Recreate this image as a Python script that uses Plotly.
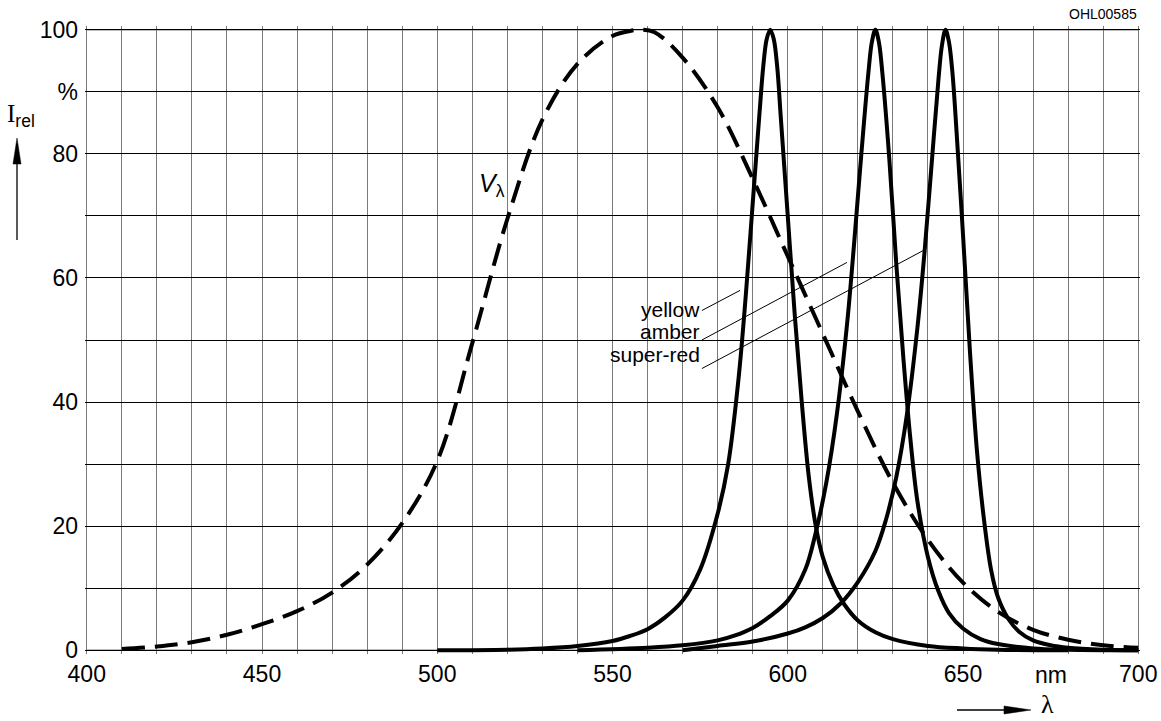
import plotly.graph_objects as go

# ---------------- data ----------------
wl_v = [410, 420, 430, 440, 450, 460, 470, 480, 490, 500, 510, 520, 530, 540, 550, 555, 558,
        562, 570, 580, 590, 600, 610, 620, 630, 640, 650, 660, 670, 680, 690, 700]
v_lambda = [0.2, 0.6, 1.3, 2.5, 4.2, 6.3, 9.3, 13.8, 20.5, 30.5, 49.5, 69.5, 85.5, 94.5, 99, 99.8, 100,
            99.6, 95.5, 87.5, 76, 63.5, 51, 38.5, 27, 17.8, 10.9, 6.2, 3.3, 1.7, 0.8, 0.4]

wl_yellow = [500, 520, 530, 540, 550, 555, 560, 565, 570, 575, 580, 583, 586, 588, 590, 592, 593,
             594, 595, 596, 597, 598, 600, 602, 604, 606, 608, 610, 613, 616, 620, 625, 630, 640,
             650, 660, 680]
i_yellow = [0, 0.1, 0.3, 0.7, 1.5, 2.3, 3.4, 5.3, 8, 13, 22, 30, 44, 57, 72, 87, 94,
            98.5, 100, 98.5, 94, 86, 70, 54, 40, 28, 20, 15, 10.5, 7.5, 4.8, 2.9, 1.8, 0.7,
            0.3, 0.1, 0]

wl_amber = [540, 560, 570, 580, 585, 590, 595, 600, 605, 608, 611, 614, 617, 619, 621, 623, 624,
            625, 626, 627, 629, 631, 633, 635, 637, 640, 643, 646, 650, 655, 660, 670, 680, 700]
i_amber = [0, 0.4, 0.8, 1.6, 2.4, 3.6, 5.5, 8, 13, 19, 27, 38, 53, 66, 80, 93, 98,
           100, 98, 93, 79, 62, 47, 34, 24, 15, 9.5, 6, 3.5, 1.8, 1, 0.3, 0.1, 0]

wl_red = [570, 580, 590, 600, 605, 610, 615, 620, 625, 628, 631, 634, 637, 639, 641, 643, 644,
          645, 646, 647, 648, 650, 652, 654, 656, 658, 660, 663, 666, 670, 675, 680, 690, 700]
i_red = [0, 0.7, 1.4, 2.7, 3.7, 5.2, 7.5, 11, 16, 21, 28, 38, 52, 64, 78, 92, 97.5,
         100, 98, 93, 85, 67, 48, 32, 21, 13, 8.5, 5, 3, 1.6, 0.8, 0.4, 0.1, 0]

x_tickvals = list(range(400, 701, 10))
x_ticktext = [str(v) if v % 50 == 0 else "" for v in x_tickvals]
y_tickvals = list(range(0, 101, 10))
y_ticktext = ["0", "", "20", "", "40", "", "60", "", "80", "%", "100"]

labels = ["yellow", "amber", "super-red"]
label_y = [54.9, 51.4, 47.7]
leader_start_y = [54.75, 50.0, 45.4]
leader_end = [(586.4, 58.0), (616.9, 62.5), (638.6, 64.4)]

# ---------------- layout geometry ----------------
OFF = 0                      # body margin removed by post_script
W, H = 1161 - OFF, 721 - OFF
L, T = 85 - OFF, 26 - OFF
PW, PH = 1055, 628
R, B = W - L - PW, H - T - PH


def px(xp):
    return (xp - OFF - L) / PW


def py(yp):
    return (H - B - (yp - OFF)) / PH


FONT = "Liberation Sans, Arial, sans-serif"

fig = go.Figure()
fig.add_trace(go.Scatter(x=wl_v, y=v_lambda, mode="lines", line_shape="spline",
                         line=dict(color="black", width=4, dash="23px,10px"), hoverinfo="skip"))
for wl, iv in [(wl_yellow, i_yellow), (wl_amber, i_amber), (wl_red, i_red)]:
    fig.add_trace(go.Scatter(x=wl, y=iv, mode="lines", line_shape="spline",
                             line=dict(color="black", width=4), hoverinfo="skip"))

shapes = []
for yv in (0, 100):
    shapes.append(dict(type="line", xref="x", yref="y", x0=400, x1=700, y0=yv, y1=yv,
                       line=dict(color="#7a7a7a", width=1.5), layer="below"))
for (sy, (ex, ey)) in zip(leader_start_y, leader_end):
    shapes.append(dict(type="line", xref="x", yref="y", x0=575.5, y0=sy, x1=ex, y1=ey,
                       line=dict(color="black", width=1)))
# I_rel arrow
shapes.append(dict(type="line", xref="paper", yref="paper", x0=px(17), x1=px(17),
                   y0=py(240), y1=py(160), line=dict(color="black", width=1.3)))
shapes.append(dict(type="path", xref="paper", yref="paper",
                   path=f"M {px(17)} {py(138)} L {px(13)} {py(164)} L {px(21)} {py(164)} Z",
                   fillcolor="black", line=dict(color="black", width=0.5)))
# lambda arrow
shapes.append(dict(type="line", xref="paper", yref="paper", x0=px(957), x1=px(1008),
                   y0=py(710), y1=py(710), line=dict(color="black", width=1.3)))
shapes.append(dict(type="path", xref="paper", yref="paper",
                   path=f"M {px(1031)} {py(710)} L {px(1004)} {py(706)} L {px(1004)} {py(714)} Z",
                   fillcolor="black", line=dict(color="black", width=0.5)))

annotations = []
for lab, ly in zip(labels, label_y):
    annotations.append(dict(x=575.6, y=ly, xref="x", yref="y", text=lab, showarrow=False,
                            xanchor="right", yanchor="middle",
                            font=dict(family=FONT, size=21, color="black")))
annotations.append(dict(x=515.5, y=75, xref="x", yref="y", text="<i>V</i><sub>λ</sub>",
                        showarrow=False, xanchor="center", yanchor="middle",
                        font=dict(family=FONT, size=25, color="black")))
annotations.append(dict(x=px(21), y=py(116), xref="paper", yref="paper",
                        text="<span style='font-family:Liberation Serif, Times New Roman, serif'>I</span><sub>rel</sub>",
                        showarrow=False, xanchor="center", yanchor="middle",
                        font=dict(family=FONT, size=25, color="black")))
annotations.append(dict(x=px(1047), y=py(704), xref="paper", yref="paper", text="λ",
                        showarrow=False, xanchor="center", yanchor="middle",
                        font=dict(family="Liberation Serif, serif", size=26, color="black")))
annotations.append(dict(x=675, y=py(675), xref="x", yref="paper", text="nm",
                        showarrow=False, xanchor="center", yanchor="middle",
                        font=dict(family=FONT, size=23, color="black")))
annotations.append(dict(x=px(1139), y=py(13.5), xref="paper", yref="paper", text="OHL00585",
                        xanchor="right", yanchor="middle", showarrow=False,
                        font=dict(family=FONT, size=14, color="black")))

fig.update_layout(
    width=W, height=H, margin=dict(l=L, r=R, t=T, b=B, autoexpand=False),
    paper_bgcolor="white", plot_bgcolor="white", showlegend=False,
    shapes=shapes, annotations=annotations,
    font=dict(family=FONT, size=23, color="black"),
)
fig.update_xaxes(range=[399.5, 700.5], tickmode="array", tickvals=x_tickvals, ticktext=x_ticktext,
                 showgrid=True, gridcolor="#7a7a7a", gridwidth=1.3, zeroline=False, showline=False,
                 ticks="", ticklabelstandoff=4, tickfont=dict(family=FONT, size=23, color="black"))
fig.update_yaxes(range=[-0.6, 100.6], tickmode="array", tickvals=y_tickvals, ticktext=y_ticktext,
                 showgrid=True, gridcolor="black", gridwidth=1, zeroline=False, showline=False,
                 ticks="", ticklabelstandoff=6, tickfont=dict(family=FONT, size=23, color="black"))

fig.write_html("out.html", config={"displayModeBar": False},
               post_script="document.body.style.margin='0px';document.body.style.overflow='hidden';")
